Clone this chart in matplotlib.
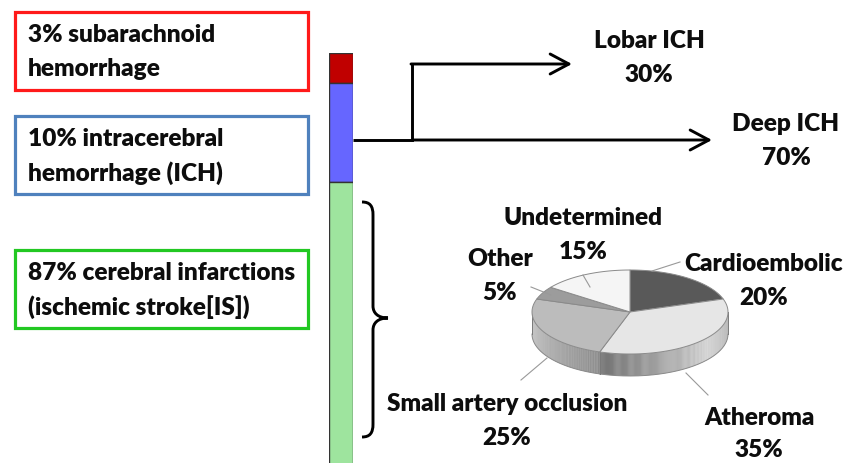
import numpy as np
import matplotlib
matplotlib.use("Agg")
import matplotlib.pyplot as plt
from matplotlib.patches import Rectangle, Polygon, PathPatch
from matplotlib.path import Path
from matplotlib.colors import to_rgb

plt.rcParams['font.family'] = ['Lato', 'DejaVu Sans']

# Stroke subtypes (share of all strokes, %)
stroke_types = ["subarachnoid hemorrhage", "intracerebral hemorrhage", "cerebral infarctions"]
stroke_share = [3, 10, 87]
bar_colors = ["#c00000", "#6666ff", "#9ee49e"]

box_lines = [("3% subarachnoid", "hemorrhage"),
             ("10% intracerebral", "hemorrhage (ICH)"),
             ("87% cerebral infarctions", "(ischemic stroke[IS])")]
box_edges = ["#ff1a1a", "#4f81bd", "#22c822"]

# ICH location split
ich_labels = ["Lobar ICH", "Deep ICH"]
ich_share = [30, 70]

# Ischemic stroke subtypes (clockwise from 12 o'clock)
is_labels = ["Cardioembolic", "Atheroma", "Small artery occlusion", "Other", "Undetermined"]
is_share = [20, 35, 25, 5, 15]
is_colors = ["#595959", "#e6e6e6", "#bcbcbc", "#9c9c9c", "#f5f5f5"]

W, H = 860, 463
fig = plt.figure(figsize=(W / 100, H / 100), dpi=100)
ax = fig.add_axes([0, 0, 1, 1])
ax.set_xlim(0, W)
ax.set_ylim(H, 0)
ax.axis("off")

FS = 17.6
GAP = 17  # half the distance between two text lines, px
txt_kw = dict(fontsize=FS, fontweight="heavy", color="#0d0d0d", va="center")


def two_lines(x, yc, l1, l2, ha="center", gap=GAP):
    ax.text(x, yc - gap, l1, ha=ha, zorder=7, **txt_kw)
    ax.text(x, yc + gap, l2, ha=ha, zorder=7, **txt_kw)


# ---- Legend-like boxes on the left
box_rows = [(12, 90), (116, 194), (250, 328)]
for (y0, y1), (l1, l2), ec in zip(box_rows, box_lines, box_edges):
    ax.add_patch(Rectangle((15, y0), 293, y1 - y0, fill=False, ec=ec, lw=2.3))
    two_lines(28, (y0 + y1) / 2 + 1, l1, l2, ha="left")

# ---- Stacked bar of stroke types
bar_top_px, bar_x0, bar_x1 = 53, 329, 353
px_per_pct = (182 - 53) / 13.0
bax = fig.add_axes([bar_x0 / W, 0, (bar_x1 - bar_x0) / W, (H - bar_top_px) / H])
bax.set_ylim((H - bar_top_px) / px_per_pct, 0)
bax.set_xlim(-0.5, 0.5)
bax.axis("off")
bottom = 0
for v, c in zip(stroke_share, bar_colors):
    bax.bar(0, v, bottom=bottom, width=1.0, color=c, edgecolor="#333333", lw=1.0)
    bottom += v

# ---- ICH branches
arrow_kw = dict(arrowstyle="->,head_length=0.75,head_width=0.4", lw=2.1, color="black",
                mutation_scale=18, shrinkA=0, shrinkB=0)
ax.plot([353, 412, 412], [140, 140, 64], color="black", lw=2.1, solid_capstyle="butt",
        solid_joinstyle="miter")
ax.annotate("", xy=(572, 64), xytext=(411, 64), arrowprops=arrow_kw)
ax.annotate("", xy=(712, 140), xytext=(412, 140), arrowprops=arrow_kw)
two_lines(649, 58, ich_labels[0], f"{ich_share[0]}%")
two_lines(786, 141, ich_labels[1], f"{ich_share[1]}%")

# ---- Curly brace
verts = [(362, 202), (370, 202), (373, 206), (373, 215),
         (373, 306), (373, 313), (378, 318), (388, 318),
         (378, 318), (373, 323), (373, 330),
         (373, 424), (373, 433), (370, 437), (362, 437)]
codes = [Path.MOVETO, Path.CURVE4, Path.CURVE4, Path.CURVE4,
         Path.LINETO, Path.CURVE4, Path.CURVE4, Path.CURVE4,
         Path.CURVE4, Path.CURVE4, Path.CURVE4,
         Path.LINETO, Path.CURVE4, Path.CURVE4, Path.CURVE4]
ax.add_patch(PathPatch(Path(verts, codes), fill=False, lw=2.1, ec="black"))

# ---- 3-D pie of ischemic stroke subtypes
cx, cy, rx, ry, depth = 630, 312, 98, 42, 22
frac = np.array(is_share, float) / sum(is_share)
edges = np.concatenate([[0], np.cumsum(frac)])
theta = np.deg2rad(90 - 360 * edges)


def ell(t, dy=0.0):
    return cx + rx * np.cos(t), cy - ry * np.sin(t) + dy


def shade(c, k):
    r, g, b = to_rgb(c)
    return (min(1, r * k), min(1, g * k), min(1, b * k))


# side rim (front half only), shaded strip by strip
rim_profiles = {1: [(0.0, 0.72), (0.35, 0.95), (1.0, 0.52)],
                2: [(0.0, 0.62), (1.0, 0.85)]}
for i in range(len(frac)):
    ts = np.linspace(theta[i], theta[i + 1], 200)
    front = np.sin(ts) < 0
    if not front.any():
        continue
    tf = ts[front]
    prof = rim_profiles.get(i, [(0, 0.8), (1, 0.8)])
    px_ = [p[0] for p in prof]
    kx = [p[1] for p in prof]
    n = len(tf)
    for j in range(n - 1):
        s = j / max(n - 2, 1)
        k = np.interp(s, px_, kx)
        t0, t1 = tf[j], tf[j + 1] + (tf[j + 1] - tf[j]) * 0.3
        xa, ya = ell(t0)
        xb, yb = ell(t1)
        ax.add_patch(Polygon([(xa, ya), (xb, yb), (xb, yb + depth), (xa, ya + depth)],
                             closed=True, fc=shade("#dcdcdc", k), ec="none", zorder=3))
    xs, ys = ell(tf)
    ax.plot(xs, ys + depth, color="#8a8a8a", lw=0.7, zorder=4)
    for t_edge in (tf[0], tf[-1]):
        xe, ye = ell(t_edge)
        ax.plot([xe, xe], [ye, ye + depth], color="#7a7a7a", lw=0.7, zorder=4)

# top faces
for i in range(len(frac)):
    ts = np.linspace(theta[i], theta[i + 1], 120)
    xs, ys = ell(ts)
    pts = [(cx, cy)] + list(zip(xs, ys))
    ax.add_patch(Polygon(pts, closed=True, fc=is_colors[i], ec="#8a8a8a", lw=0.7, zorder=5))

# leader lines and labels
leaders = [((652, 271), (680, 262)), ((686, 373), (708, 395)), ((547, 358), (521, 380)),
           ((551, 295), (531, 287)), ((590, 287), (583, 275))]
for (p0, p1) in leaders:
    ax.plot([p0[0], p1[0]], [p0[1], p1[1]], color="#999999", lw=0.8, zorder=6)

label_pos = [(764, 281), (759, 434), (507, 421), (500, 276), (583, 235)]
label_gap = [GAP, 16, GAP, GAP, GAP]
for lab, v, (lx, ly), g in zip(is_labels, is_share, label_pos, label_gap):
    two_lines(lx, ly, lab, f"{v}%", gap=g)

fig.savefig("out.png", dpi=100)
